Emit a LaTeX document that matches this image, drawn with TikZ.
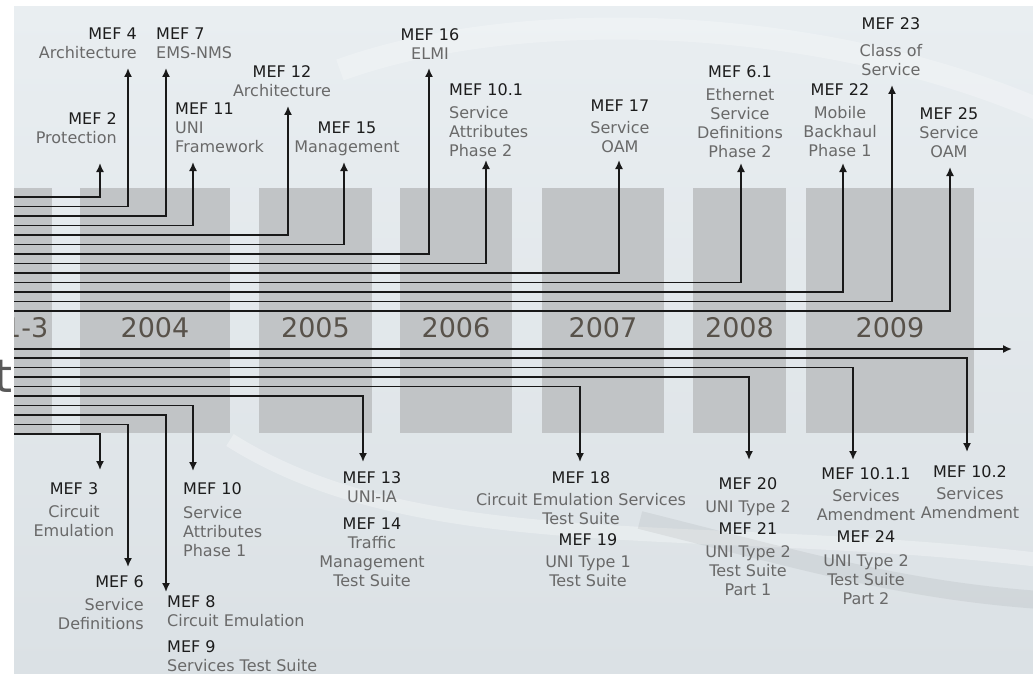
\documentclass[tikz,border=0pt]{standalone}
\usepackage{fontspec}
\setmainfont{DejaVu Sans}
\usetikzlibrary{arrows.meta}

\definecolor{slidetop}{RGB}{233,238,241}
\definecolor{slidebot}{RGB}{219,225,229}
\definecolor{boxc}{RGB}{193,196,198}
\definecolor{yearc}{RGB}{88,82,74}
\definecolor{titlec}{RGB}{28,28,28}
\definecolor{descc}{RGB}{105,105,105}
\definecolor{linec}{RGB}{25,25,25}
\newcommand\mefno[1]{\textcolor{titlec}{MEF #1}}

\begin{document}
\begin{tikzpicture}[x=1pt, y=-1pt, >={Latex[length=9pt,width=8pt]},
  mef/.style={inner sep=0pt, text=descc, font=\fontsize{16}{19}\selectfont},
  yearlbl/.style={inner sep=0pt, text=yearc, font=\fontsize{27}{30}\selectfont},
  yearbox/.style={fill=boxc},
  link/.style={->, line width=1.6pt, draw=linec}]
\useasboundingbox (0,0) rectangle (1033,674);

% stray letter left of the slide
\node[inner sep=0pt, text=black!65, font=\fontsize{46}{50}\selectfont, anchor=base east] (tt) at (13,392) {t};

\begin{scope}
\clip (14,7) rectangle (1033,674);
\shade[top color=slidetop, bottom color=slidebot] (14,7) rectangle (1033,674);
\draw[white, opacity=.25, line width=22pt] (340,70) .. controls (520,5) and (820,15) .. (1040,110);
\draw[white, opacity=.3, line width=14pt] (230,440) .. controls (420,560) and (700,520) .. (1040,560);
\draw[black, opacity=.05, line width=18pt] (640,520) .. controls (800,560) and (900,590) .. (1040,600);

% year columns
\fill[yearbox] (10,188) rectangle (52,433);
\node[yearlbl, anchor=east] (y2001) at (48.5,328) {2001-3};
\foreach \xa/\xb/\yr in {80/230/2004, 259/372/2005, 400/512/2006,
                         542/664/2007, 693/786/2008, 806/974/2009}{
  \fill[yearbox] (\xa,188) rectangle (\xb,433);
  \node[yearlbl] (y\yr) at ({(\xa+\xb)/2},328) {\yr};
}

% timeline
\coordinate (ax0) at (10,349);
\coordinate (ax1) at (1012,349);
\draw[link] (ax0) -- (ax1);

% specs above the line
\node[mef, align=right, anchor=north east] (m2) at (117,112) {\mefno{2}\\Protection};
\node[mef, align=right, anchor=north east] (m4) at (137,28) {\mefno{4}\\Architecture};
\node[mef, align=left, anchor=north west] (m7) at (156,28) {\mefno{7}\\EMS-NMS};
\node[mef, align=left, anchor=north west] (m11) at (175,103) {\mefno{11}\\UNI\\Framework};
\node[mef, align=center, anchor=north] (m12) at (282,65) {\mefno{12}\\Architecture};
\node[mef, align=center, anchor=north] (m15) at (347,122) {\mefno{15}\\Management};
\node[mef, align=center, anchor=north] (m16) at (430,28) {\mefno{16}\\ELMI};
\node[mef, align=left, anchor=north west] (m101) at (449,83) {\mefno{10.1}\\[4pt]Service\\Attributes\\Phase 2};
\node[mef, align=center, anchor=north] (m17) at (620,100) {\mefno{17}\\[3pt]Service\\OAM};
\node[mef, align=center, anchor=north] (m61) at (740,65) {\mefno{6.1}\\[4pt]Ethernet\\Service\\Definitions\\Phase 2};
\node[mef, align=center, anchor=north] (m22) at (840,83) {\mefno{22}\\[4pt]Mobile\\Backhaul\\Phase 1};
\node[mef, align=center, anchor=north] (m23) at (891,17) {\mefno{23}\\[8pt]Class of\\Service};
\node[mef, align=center, anchor=north] (m25) at (949,107) {\mefno{25}\\Service\\OAM};

% specs below the line
\node[mef, align=center, anchor=north] (m3) at (74,482) {\mefno{3}\\[4pt]Circuit\\Emulation};
\node[mef, align=right, anchor=north east] (m6) at (144,575) {\mefno{6}\\[4pt]Service\\Definitions};
\node[mef, align=left, anchor=north west] (m8) at (167,595) {\mefno{8}\\Circuit Emulation};
\node[mef, align=left, anchor=north west] (m9) at (167,640) {\mefno{9}\\Services Test Suite};
\node[mef, align=left, anchor=north west] (m10) at (183,482) {\mefno{10}\\[5pt]Service\\Attributes\\Phase 1};
\node[mef, align=center, anchor=north] (m13) at (372,471) {\mefno{13}\\UNI-IA};
\node[mef, align=center, anchor=north] (m14) at (372,518) {\mefno{14}\\Traffic\\Management\\Test Suite};
\node[mef, align=center, anchor=north] (m18) at (581,471) {\mefno{18}\\[3pt]Circuit Emulation Services\\Test Suite};
\node[mef, align=center, anchor=north] (m19) at (588,533) {\mefno{19}\\[3pt]UNI Type 1\\Test Suite};
\node[mef, align=center, anchor=north] (m20) at (748,477) {\mefno{20}\\[4pt]UNI Type 2};
\node[mef, align=center, anchor=north] (m21) at (748,522) {\mefno{21}\\[4pt]UNI Type 2\\Test Suite\\Part 1};
\node[mef, align=center, anchor=north] (m1011) at (866,467) {\mefno{10.1.1}\\[3pt]Services\\Amendment};
\node[mef, align=center, anchor=north] (m24) at (866,530) {\mefno{24}\\[5pt]UNI Type 2\\Test Suite\\Part 2};
\node[mef, align=center, anchor=north] (m102) at (970,465) {\mefno{10.2}\\[3pt]Services\\Amendment};

% links: name / line y / arrow x / tip y
\foreach \n/\yy/\xx/\ty in {2/197/100/163, 4/206.5/128/68, 7/216/166/68,
    11/225.5/193/162, 12/235/288/106, 15/244.5/344/162, 16/254/429/68,
    101/263.5/486/160, 17/273/619/160, 61/282.5/741/163, 22/292/843/163,
    23/301.5/892/85, 25/311/950/167,
    102/358/967/452, 1011/367.5/853/460, 20/377/749/460, 18/386.5/580/462,
    13/396/363/462, 10/405.5/193/471, 8/415/166/592, 6/424.5/128/567,
    3/434/100/470}{
  \coordinate (s\n) at (10,\yy);
  \coordinate (e\n) at (\xx,\ty);
  \draw[link] (s\n) -| (e\n);
}
\end{scope}
\end{tikzpicture}
\end{document}
